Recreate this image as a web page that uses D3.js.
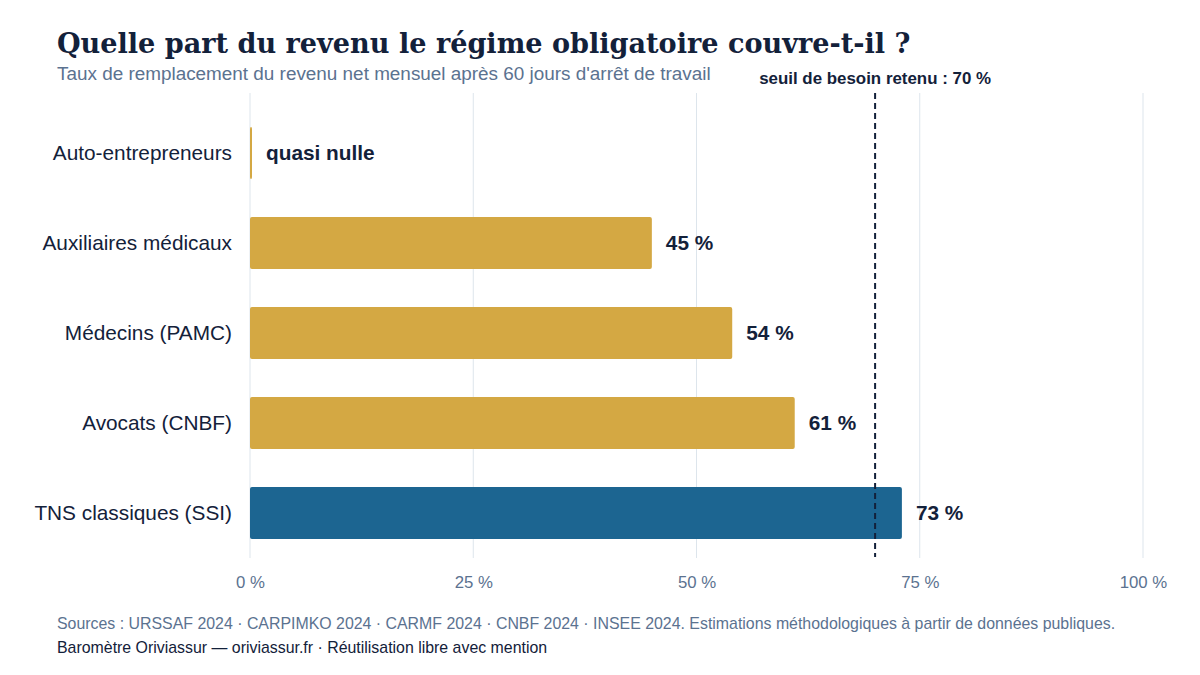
<!DOCTYPE html>
<html>
<head>
<meta charset="utf-8">
<script src="https://cdn.jsdelivr.net/npm/d3@7"></script>
<style>
  body { margin: 0; background: #fff; }
  svg { display: block; }
</style>
</head>
<body>
<div id="chart"></div>
<script>
// données
var categories = ["Auto-entrepreneurs", "Auxiliaires médicaux", "Médecins (PAMC)", "Avocats (CNBF)", "TNS classiques (SSI)"];
var values = [0.2, 45, 54, 61, 73];
var valueLabels = ["quasi nulle", "45 %", "54 %", "61 %", "73 %"];
var highlight = [false, false, false, false, true];
var xTicks = [0, 25, 50, 75, 100];
var threshold = 70;

var width = 1200, height = 675;
var sans = "'Liberation Sans', Arial, sans-serif";

var colors = {
  gold: "#d4a843",
  blue: "#1c6591",
  ink: "#13213a",
  muted: "#5b7290",
  grid: "#dde5ec"
};

var svg = d3.select("#chart")
  .append("svg")
  .attr("width", width)
  .attr("height", height);

var x = d3.scaleLinear().domain([0, 100]).range([250, 1143]);
var y = d3.scaleBand()
  .domain(categories)
  .range([108, 558])
  .paddingInner(0.42)
  .paddingOuter(0.21);

// grille
svg.append("g")
  .selectAll("line")
  .data(xTicks)
  .enter()
  .append("line")
  .attr("x1", function(d) { return x(d); })
  .attr("x2", function(d) { return x(d); })
  .attr("y1", 93)
  .attr("y2", 558)
  .style("stroke", colors.grid)
  .style("stroke-width", 1);

// axe x
var xAxis = d3.axisBottom(x)
  .tickValues(xTicks)
  .tickSize(0)
  .tickPadding(0)
  .tickFormat(function(d) { return d + " %"; });

var gx = svg.append("g")
  .attr("transform", "translate(0,576)")
  .call(xAxis);
gx.select(".domain").remove();
gx.selectAll("text")
  .style("font-family", sans)
  .style("font-size", "16.8px")
  .style("fill", colors.muted);

// barres
var rows = svg.append("g")
  .selectAll("g")
  .data(categories)
  .enter()
  .append("g");

rows.append("rect")
  .attr("x", x(0))
  .attr("y", function(d) { return y(d); })
  .attr("width", function(d, i) { return Math.max(2, x(values[i]) - x(0)); })
  .attr("height", y.bandwidth())
  .attr("rx", 2)
  .style("fill", function(d, i) { return highlight[i] ? colors.blue : colors.gold; });

rows.append("text")
  .attr("x", 232)
  .attr("y", function(d) { return y(d) + y.bandwidth() / 2; })
  .attr("dy", "0.33em")
  .style("text-anchor", "end")
  .style("font-family", sans)
  .style("font-size", "20.8px")
  .style("fill", colors.ink)
  .text(function(d) { return d; });

rows.append("text")
  .attr("x", function(d, i) { return Math.max(x(values[i]), x(0) + 2) + 14; })
  .attr("y", function(d) { return y(d) + y.bandwidth() / 2; })
  .attr("dy", "0.33em")
  .style("font-family", sans)
  .style("font-size", "20.8px")
  .style("font-weight", "bold")
  .style("fill", colors.ink)
  .text(function(d, i) { return valueLabels[i]; });

// seuil
svg.append("line")
  .attr("x1", x(threshold))
  .attr("x2", x(threshold))
  .attr("y1", 93)
  .attr("y2", 557)
  .style("stroke", colors.ink)
  .style("stroke-width", 2)
  .style("stroke-dasharray", "6,4");

svg.append("text")
  .attr("x", x(threshold))
  .attr("y", 84)
  .style("text-anchor", "middle")
  .style("font-family", sans)
  .style("font-size", "16.9px")
  .style("font-weight", "bold")
  .style("fill", colors.ink)
  .text("seuil de besoin retenu : " + threshold + " %");

// titres
svg.append("text")
  .attr("x", 57)
  .attr("y", 53)
  .style("font-family", "'DejaVu Serif', Georgia, serif")
  .style("font-size", "27.1px")
  .style("font-weight", "bold")
  .style("fill", colors.ink)
  .text("Quelle part du revenu le régime obligatoire couvre-t-il ?");

svg.append("text")
  .attr("x", 57)
  .attr("y", 80)
  .style("font-family", sans)
  .style("font-size", "18.9px")
  .style("fill", colors.muted)
  .text("Taux de remplacement du revenu net mensuel après 60 jours d'arrêt de travail");

// pied de page
svg.append("text")
  .attr("x", 57)
  .attr("y", 629)
  .style("font-family", sans)
  .style("font-size", "15.9px")
  .style("fill", colors.muted)
  .text("Sources : URSSAF 2024 · CARPIMKO 2024 · CARMF 2024 · CNBF 2024 · INSEE 2024. Estimations méthodologiques à partir de données publiques.");

svg.append("text")
  .attr("x", 57)
  .attr("y", 653)
  .style("font-family", sans)
  .style("font-size", "15.9px")
  .style("fill", colors.ink)
  .text("Baromètre Oriviassur — oriviassur.fr · Réutilisation libre avec mention");
</script>
</body>
</html>
